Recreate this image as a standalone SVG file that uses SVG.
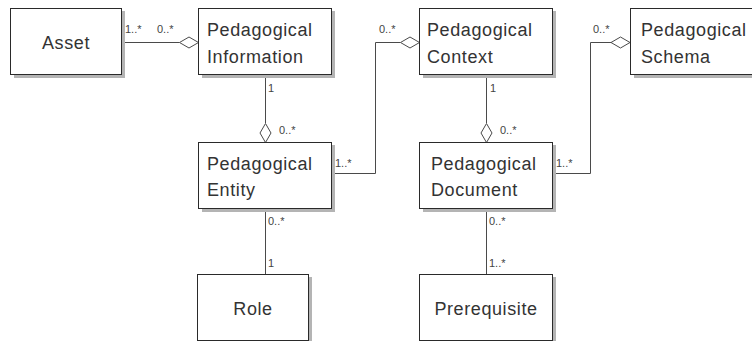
<svg xmlns="http://www.w3.org/2000/svg" width="752" height="341" viewBox="0 0 752 341">
  <style>
    .shadow { fill: #b4b4b4; }
    .box { fill: #ffffff; stroke: #2a2a2a; stroke-width: 1; }
    .name { font-family: "Liberation Sans", Arial, sans-serif; font-size: 18px; letter-spacing: 0.6px; fill: #333333; }
    .mid { text-anchor: middle; }
    .edge { fill: none; stroke: #4a4a4a; stroke-width: 1; }
    .agg { fill: #ffffff; stroke: #4a4a4a; stroke-width: 1; }
    .mult { font-family: "Liberation Sans", Arial, sans-serif; font-size: 11px; fill: #444444; }
  </style>

  <rect width="752" height="341" fill="#ffffff"/>

  <!-- associations and aggregations -->
  <g id="connectors">
    <!-- Asset / Pedagogical Information -->
    <line class="edge" x1="121.5" y1="42.5" x2="179.5" y2="42.5"/>
    <polygon class="agg" points="198.5,42.5 189,37 179.5,42.5 189,48"/>
    <text class="mult" x="125" y="33">1..*</text>
    <text class="mult" x="157" y="33">0..*</text>

    <!-- Pedagogical Information / Pedagogical Entity -->
    <line class="edge" x1="265.5" y1="74.5" x2="265.5" y2="123"/>
    <polygon class="agg" points="265.5,142.5 260,133 265.5,123.5 271,133"/>
    <text class="mult" x="268" y="92">1</text>
    <text class="mult" x="279" y="134">0..*</text>

    <!-- Pedagogical Entity / Pedagogical Context -->
    <polyline class="edge" points="331.5,173.5 375.5,173.5 375.5,42.5 400.5,42.5"/>
    <polygon class="agg" points="419.5,42.5 410,37 400.5,42.5 410,48"/>
    <text class="mult" x="335" y="167">1..*</text>
    <text class="mult" x="379" y="33">0..*</text>

    <!-- Pedagogical Context / Pedagogical Document -->
    <line class="edge" x1="486.5" y1="74.5" x2="486.5" y2="123"/>
    <polygon class="agg" points="486.5,142.5 481,133 486.5,123.5 492,133"/>
    <text class="mult" x="490" y="92">1</text>
    <text class="mult" x="500" y="134">0..*</text>

    <!-- Pedagogical Document / Pedagogical Schema -->
    <polyline class="edge" points="552.5,173.5 590.5,173.5 590.5,42.5 611,42.5"/>
    <polygon class="agg" points="630,42.5 620.5,37 611,42.5 620.5,48"/>
    <text class="mult" x="556" y="167">1..*</text>
    <text class="mult" x="593" y="33">0..*</text>

    <!-- Pedagogical Entity / Role -->
    <line class="edge" x1="265.5" y1="208.5" x2="265.5" y2="274.5"/>
    <text class="mult" x="268" y="225">0..*</text>
    <text class="mult" x="268" y="267">1</text>

    <!-- Pedagogical Document / Prerequisite -->
    <line class="edge" x1="486.5" y1="208.5" x2="486.5" y2="274.5"/>
    <text class="mult" x="489" y="225">0..*</text>
    <text class="mult" x="489" y="267">1..*</text>
  </g>

  <g id="asset">
    <rect class="shadow" x="14" y="11" width="111" height="67"/>
    <rect class="box" x="10.5" y="8.5" width="111" height="66"/>
    <text class="name mid" x="66" y="49">Asset</text>
  </g>

  <g id="pedagogical-information">
    <rect class="shadow" x="202" y="11" width="133" height="67"/>
    <rect class="box" x="198.5" y="8.5" width="133" height="66"/>
    <text class="name" x="207" y="36">Pedagogical</text>
    <text class="name" x="207" y="63">Information</text>
  </g>

  <g id="pedagogical-context">
    <rect class="shadow" x="423" y="11" width="133" height="67"/>
    <rect class="box" x="419.5" y="8.5" width="133" height="66"/>
    <text class="name" x="427" y="36">Pedagogical</text>
    <text class="name" x="427" y="63">Context</text>
  </g>

  <g id="pedagogical-schema">
    <rect class="shadow" x="634" y="11" width="133" height="67"/>
    <rect class="box" x="630.5" y="8.5" width="133" height="66"/>
    <text class="name" x="641" y="36">Pedagogical</text>
    <text class="name" x="641" y="63">Schema</text>
  </g>

  <g id="pedagogical-entity">
    <rect class="shadow" x="202" y="145" width="133" height="67"/>
    <rect class="box" x="198.5" y="142.5" width="133" height="66"/>
    <text class="name" x="207" y="170">Pedagogical</text>
    <text class="name" x="207" y="196">Entity</text>
  </g>

  <g id="pedagogical-document">
    <rect class="shadow" x="423" y="145" width="133" height="67"/>
    <rect class="box" x="419.5" y="142.5" width="133" height="66"/>
    <text class="name" x="431" y="170">Pedagogical</text>
    <text class="name" x="431" y="196">Document</text>
  </g>

  <g id="role">
    <rect class="shadow" x="201" y="277" width="111" height="70"/>
    <rect class="box" x="197.5" y="274.5" width="111" height="66"/>
    <text class="name mid" x="253" y="315">Role</text>
  </g>

  <g id="prerequisite">
    <rect class="shadow" x="423" y="277" width="133" height="70"/>
    <rect class="box" x="419.5" y="274.5" width="133" height="66"/>
    <text class="name mid" x="486" y="315">Prerequisite</text>
  </g>
</svg>
